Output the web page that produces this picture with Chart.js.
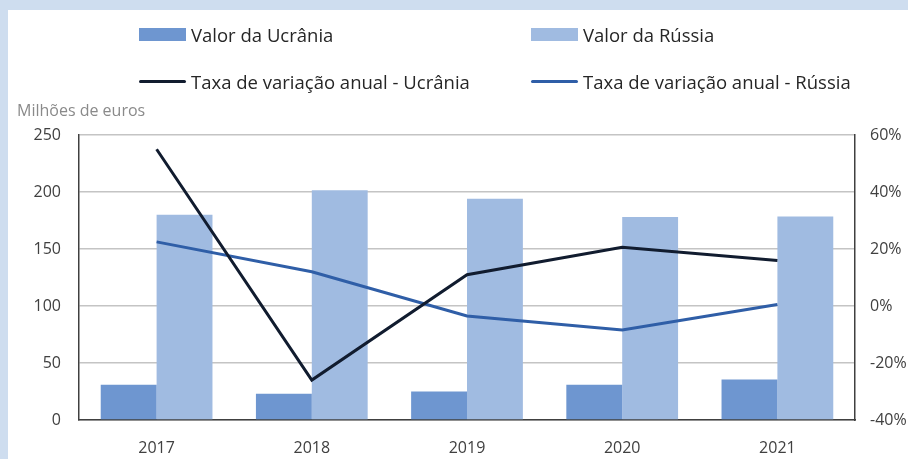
<!DOCTYPE html>
<html>
<head>
<meta charset="utf-8">
<script src="https://cdn.jsdelivr.net/npm/chart.js@4.4.1/dist/chart.umd.min.js"></script>
<style>
  html, body { margin: 0; padding: 0; }
  body { width: 908px; height: 459px; background: #CEDDEF; position: relative; overflow: hidden; font-family: "Open Sans", sans-serif; }
  #painel { position: absolute; left: 8px; top: 10px; right: 0; bottom: 0; background: #fff; }
  #grafico { position: absolute; left: 0; top: 0; }
  .leg { position: absolute; font-size: 18.5px; color: #262626; white-space: nowrap; line-height: 24px; }
  .sw { position: absolute; }
  #unidade { position: absolute; left: 17px; top: 99px; font-size: 16px; color: #8a8a8a; white-space: nowrap; }
</style>
</head>
<body>
<div id="painel"></div>
<canvas id="grafico" width="908" height="459"></canvas>
<div id="legenda"></div>
<div id="unidade">Milhões de euros</div>
<script>
// dados
const anos = ["2017", "2018", "2019", "2020", "2021"];
const valorUcrania = [31, 23, 25, 31, 35.5];
const valorRussia = [180, 201.5, 194, 178, 178.5];
const taxaUcrania = [55, -26, 11, 20.6, 16];
const taxaRussia = [22.5, 12, -3.5, -8.4, 0.5];

const nomes = ["Valor da Ucrânia", "Valor da Rússia", "Taxa de variação anual - Ucrânia", "Taxa de variação anual - Rússia"];
const cores = ["#6E96D0", "#A0BBE1", "#111C2F", "#2F5EA7"];
const ticksEsq = [0, 50, 100, 150, 200, 250];
const ticksDir = [-40, -20, 0, 20, 40, 60];

const corTexto = "#404040";
const fonteTick = { family: "Open Sans", size: 16 };

const ctx = document.getElementById("grafico");
const grafico = new Chart(ctx, {
    type: "bar",
    data: {
        labels: anos,
        datasets: [
            { type: "bar", label: nomes[0], data: valorUcrania, backgroundColor: cores[0], yAxisID: "y", order: 2 },
            { type: "bar", label: nomes[1], data: valorRussia, backgroundColor: cores[1], yAxisID: "y", order: 2 },
            { type: "line", label: nomes[2], data: taxaUcrania, borderColor: cores[2], borderWidth: 3, pointRadius: 0, tension: 0, yAxisID: "y1", order: 1 },
            { type: "line", label: nomes[3], data: taxaRussia, borderColor: cores[3], borderWidth: 3, pointRadius: 0, tension: 0, yAxisID: "y1", order: 1 }
        ]
    },
    options: {
        responsive: false,
        animation: false,
        layout: { padding: { top: 135, left: 0, right: 0, bottom: 0 } },
        datasets: { bar: { categoryPercentage: 0.72, barPercentage: 1.0 } },
        plugins: { legend: { display: false }, tooltip: { enabled: false } },
        scales: {
            x: {
                grid: { display: false },
                border: { display: true, color: "#404040", width: 1.5 },
                ticks: { color: corTexto, font: fonteTick, padding: 11 },
                afterFit: (s) => { s.height = 39; }
            },
            y: {
                position: "left",
                min: 0, max: 250,
                afterBuildTicks: (s) => { s.ticks = ticksEsq.map(v => ({ value: v })); },
                grid: { color: "#C4C4C4", lineWidth: 1.5, drawTicks: false },
                border: { display: true, color: "#404040", width: 1.5 },
                ticks: { color: corTexto, font: fonteTick, padding: 18 },
                afterFit: (s) => { s.width = 79; }
            },
            y1: {
                position: "right",
                min: -40, max: 60,
                afterBuildTicks: (s) => { s.ticks = ticksDir.map(v => ({ value: v })); },
                grid: { display: false, drawTicks: false },
                border: { display: true, color: "#404040", width: 1.5 },
                ticks: { color: corTexto, font: fonteTick, padding: 15, callback: (v) => v + "%" },
                afterFit: (s) => { s.width = 53; }
            }
        }
    }
});

// legenda em HTML, duas colunas
const leg = document.getElementById("legenda");
const posLeg = [[139, 23], [531, 23], [139, 70], [531, 70]];
grafico.data.datasets.forEach((ds, i) => {
    const [x, y] = posLeg[i];
    const sw = document.createElement("div");
    sw.className = "sw";
    if (ds.type === "bar") {
        sw.style.cssText = `left:${x}px;top:${y + 5}px;width:47px;height:13px;background:${ds.backgroundColor}`;
    } else {
        sw.style.cssText = `left:${x}px;top:${y + 10}px;width:47px;height:3px;border-radius:2px;background:${ds.borderColor}`;
    }
    leg.appendChild(sw);
    const t = document.createElement("div");
    t.className = "leg";
    t.style.left = (x + 52) + "px";
    t.style.top = y + "px";
    t.textContent = ds.label;
    leg.appendChild(t);
});
</script>
</body>
</html>
